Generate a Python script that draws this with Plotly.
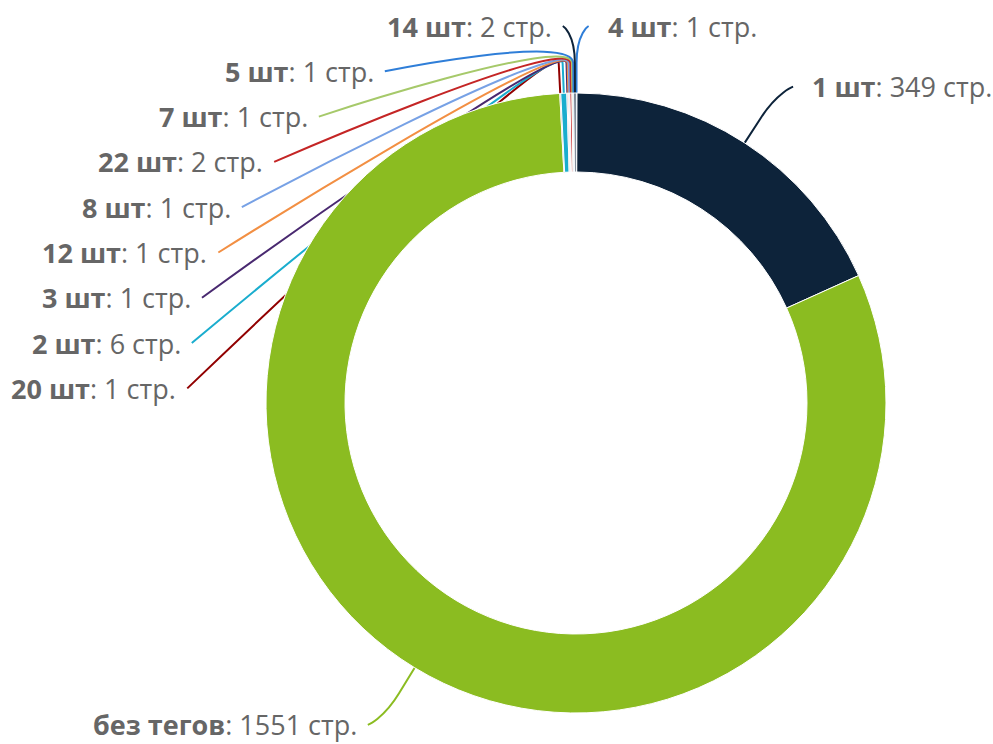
import math
import plotly.graph_objects as go

# Pages grouped by the number of tags they carry
names = ["4 шт", "1 шт", "без тегов", "20 шт", "2 шт", "3 шт", "12 шт",
         "8 шт", "22 шт", "7 шт", "5 шт", "14 шт"]
pages = [1, 349, 1551, 1, 6, 1, 1, 1, 2, 1, 1, 2]
palette = ["#2f7ed8", "#0d233a", "#8bbc21", "#910000", "#1aadce", "#492970",
           "#f28f43", "#77a1e5", "#c42525", "#a6c96a"]
unit = "стр."

W, H = 993, 744
CX, CY = 576, 403          # pie centre, px
R_OUT = 310                # outer radius, px
R_IN = 231                 # inner radius, px
R_LABEL = 377              # circle on which labels sit
BREAK = 30                 # connector break distance outside the pie
PAD = 12                   # gap between label circle and connector start
GAP_L, GAP_R = 9, 17       # gap between connector start and text
SPACING = 45.3             # minimum vertical distance between labels
Y_TOP = 26                 # highest allowed label position

colors = [palette[i % len(palette)] for i in range(len(pages))]


def px(x):
    return x / W


def py(y):
    return 1 - y / H


fig = go.Figure(go.Pie(
    labels=names,
    values=pages,
    sort=False,
    direction="clockwise",
    rotation=0,
    hole=R_IN / R_OUT,
    marker=dict(colors=colors, line=dict(color="#ffffff", width=1)),
    textinfo="none",
    hoverinfo="label+value",
    showlegend=False,
    domain=dict(x=[px(CX - R_OUT), px(CX + R_OUT)],
                y=[py(CY + R_OUT), py(CY - R_OUT)]),
))

# mid angle of each slice, degrees clockwise from 12 o'clock
total = sum(pages)
mids = []
acc = 0
for v in pages:
    mids.append((acc + v / 2) / total * 360)
    acc += v

# distribute the labels on each half of the pie
labels = []
for i, a in enumerate(mids):
    t = math.radians(a)
    labels.append(dict(i=i, a=a, left=a > 180,
                       ynat=CY - R_LABEL * math.cos(t),
                       xnat=R_LABEL * math.sin(t)))

for side in (True, False):
    group = [l for l in labels if l["left"] == side]
    group.sort(key=lambda l: (l["ynat"], -l["a"] if side else l["a"]))
    prev = None
    for l in group:
        y = max(l["ynat"], Y_TOP)
        if prev is not None:
            y = max(y, prev + SPACING)
        l["y"] = y
        prev = y
        if abs(y - l["ynat"]) < 0.5:
            dx = abs(l["xnat"])
        else:
            dy = y - CY
            dx = math.sqrt(max(R_LABEL ** 2 - dy ** 2, 0))
        sgn = -1 if side else 1
        l["xc"] = CX + sgn * (dx + PAD)

shapes = []
annotations = []
for l in labels:
    i = l["i"]
    t = math.radians(l["a"])
    sx, sy = math.sin(t), -math.cos(t)
    base = (CX + R_OUT * sx, CY + R_OUT * sy)
    brk = (CX + (R_OUT + BREAK) * sx, CY + (R_OUT + BREAK) * sy)
    ctrl = (2 * brk[0] - base[0], 2 * brk[1] - base[1])
    start = (l["xc"], l["y"])
    path = (f"M {px(start[0])} {py(start[1])} "
            f"C {px(start[0])} {py(start[1])} {px(ctrl[0])} {py(ctrl[1])} "
            f"{px(brk[0])} {py(brk[1])} "
            f"L {px(base[0])} {py(base[1])}")
    shapes.append(dict(type="path", xref="paper", yref="paper", path=path,
                       layer="below", line=dict(color=colors[i], width=2)))
    left = l["left"]
    annotations.append(dict(
        xref="paper", yref="paper",
        x=px(l["xc"] + (-GAP_L if left else GAP_R)), y=py(l["y"]),
        xanchor="right" if left else "left", yanchor="middle",
        text=f"<b>{names[i]}</b>: {pages[i]} {unit}",
        showarrow=False,
        font=dict(family="Open Sans", size=27, color="#666666"),
    ))

fig.update_layout(
    width=W, height=H,
    margin=dict(l=0, r=0, t=0, b=0),
    paper_bgcolor="#ffffff",
    plot_bgcolor="#ffffff",
    shapes=shapes,
    annotations=annotations,
)

fig.write_html("out.html")
